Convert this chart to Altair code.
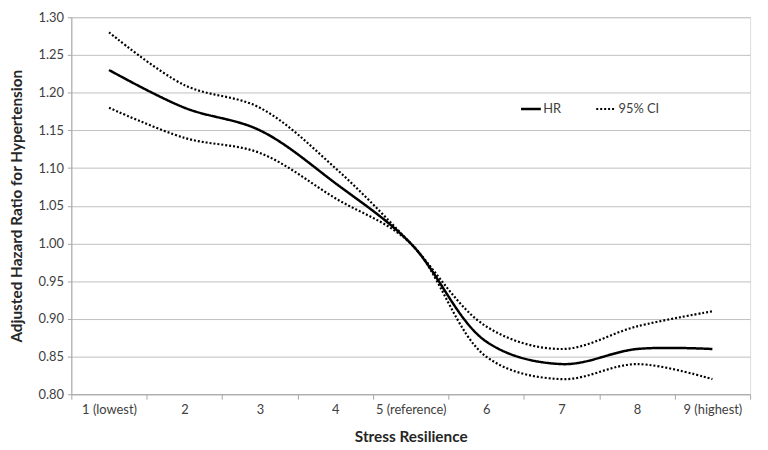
import altair as alt
import pandas as pd

categories = ["1 (lowest)", "2", "3", "4", "5 (reference)", "6", "7", "8", "9 (highest)"]
x_pos = [1, 2, 3, 4, 5, 6, 7, 8, 9]
hr = [1.23, 1.18, 1.15, 1.08, 1.00, 0.87, 0.84, 0.86, 0.86]
ci_upper = [1.28, 1.21, 1.18, 1.10, 1.00, 0.89, 0.86, 0.89, 0.91]
ci_lower = [1.18, 1.14, 1.12, 1.06, 1.00, 0.85, 0.82, 0.84, 0.82]
y_ticks = [0.80, 0.85, 0.90, 0.95, 1.00, 1.05, 1.10, 1.15, 1.20, 1.25, 1.30]

rows = []
for name, style, vals in [("HR", "HR", hr), ("upper", "95% CI", ci_upper), ("lower", "95% CI", ci_lower)]:
    for xv, v in zip(x_pos, vals):
        rows.append({"x": xv, "value": v, "line": name, "style": style})
df = pd.DataFrame(rows)

x_values = [0.5 + 0.5 * i for i in range(19)]
label_arr = "[" + ",".join("'" + c + "'" for c in categories) + "]"

FONT = "Lato"
GRID = "#bfbfbf"

chart = alt.Chart(df).mark_line(interpolate="catmull-rom", color="black").encode(
    x=alt.X("x:Q",
            scale=alt.Scale(domain=[0.5, 9.5], nice=False, zero=False),
            axis=alt.Axis(values=x_values,
                          labelExpr=f"datum.value % 1 == 0 ? {label_arr}[datum.value - 1] : ''",
                          tickOpacity={"condition": {"test": "datum.value % 1 == 0", "value": 0}, "value": 1},
                          tickSize=5, tickColor="#a6a6a6", domainColor="#a6a6a6",
                          labelPadding=4, labelFontSize=13, labelColor="#404040",
                          labelFont=FONT, grid=False, title="Stress Resilience",
                          titleFont=FONT, titleFontSize=15.5, titleFontWeight="bold",
                          titleColor="#262626", titlePadding=14, labelOverlap=False,
                          labelFlush=False)),
    y=alt.Y("value:Q",
            scale=alt.Scale(domain=[0.80, 1.30], nice=False, zero=False),
            axis=alt.Axis(values=y_ticks, format=".2f", tickSize=4, tickColor="#a6a6a6",
                          domainColor="#a6a6a6", gridColor=GRID, gridWidth=1,
                          labelFontSize=13, labelColor="#404040", labelFont=FONT,
                          labelPadding=4,
                          title="Adjusted Hazard Ratio for Hypertension", titleFont=FONT,
                          titleFontSize=15.5, titleFontWeight="bold", titleColor="#262626",
                          titlePadding=14)),
    detail="line:N",
    strokeDash=alt.StrokeDash("style:N",
                              scale=alt.Scale(domain=["HR", "95% CI"], range=[[1, 0], [2, 2]]),
                              legend=alt.Legend(orient="none", legendX=453, legendY=81,
                                                direction="horizontal", title=None,
                                                symbolType="stroke", symbolSize=400,
                                                symbolStrokeWidth=2.5, symbolStrokeColor="black",
                                                labelFont=FONT, labelFontSize=13,
                                                labelColor="#404040", labelOffset=1,
                                                columnPadding=30)),
    strokeWidth=alt.StrokeWidth("style:N",
                                scale=alt.Scale(domain=["HR", "95% CI"], range=[2.5, 2.2]),
                                legend=None),
).properties(
    width=686, height=381,
    autosize=alt.AutoSizeParams(type="none"),
    padding={"left": 64, "top": 7, "right": 10, "bottom": 54},
).configure_view(stroke=None).configure(background="white")

chart.save("out.html", embed_options={"renderer": "svg", "actions": False})
